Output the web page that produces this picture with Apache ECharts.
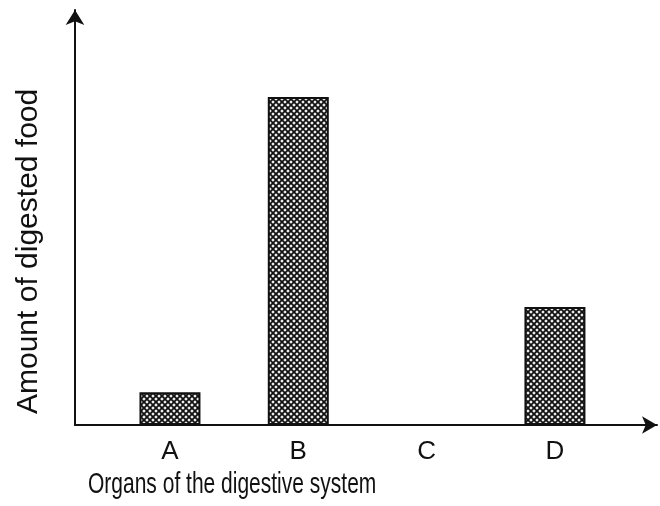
<!DOCTYPE html>
<html>
<head>
<meta charset="utf-8">
<script src="https://cdn.jsdelivr.net/npm/echarts@6/dist/echarts.min.js"></script>
<style>
html,body{margin:0;padding:0;background:#fff;}
#chart{width:660px;height:506px;}
</style>
</head>
<body>
<div id="chart"></div>
<script>
const categories = ['A', 'B', 'C', 'D'];
const values = [1.0, 10.0, 0, 3.6];
const xTitle = 'Organs of the digestive system';
const yTitle = 'Amount of digested food';

function hatch() {
  const s = 6;
  const c = document.createElement('canvas');
  c.width = s; c.height = s;
  const g = c.getContext('2d');
  g.fillStyle = '#f2f2f2';
  g.fillRect(0, 0, s, s);
  g.strokeStyle = '#111';
  g.lineWidth = 1.8;
  g.beginPath();
  g.moveTo(-1, -1); g.lineTo(s + 1, s + 1);
  g.moveTo(s + 1, -1); g.lineTo(-1, s + 1);
  g.stroke();
  return c;
}

const chart = echarts.init(document.getElementById('chart'), null, {renderer: 'canvas'});
const fontFamily = '"Liberation Sans", Arial, sans-serif';
chart.setOption({
  animation: false,
  backgroundColor: '#fff',
  grid: [
    {left: 75, right: 3, top: 10, bottom: 81},
    {left: 105.8, width: 513.3, top: 15, bottom: 81}
  ],
  xAxis: [
    {gridIndex: 0, type: 'value', min: 0, max: 1,
     axisLine: {show: true, lineStyle: {color: '#111', width: 2}, symbol: ['none', 'arrow'], symbolSize: [13, 15]},
     axisTick: {show: false}, axisLabel: {show: false}, splitLine: {show: false}},
    {gridIndex: 1, type: 'category', data: categories,
     axisLine: {show: false}, axisTick: {show: false},
     axisLabel: {color: '#111', fontSize: 26, fontFamily: fontFamily, margin: 14}}
  ],
  yAxis: [
    {gridIndex: 0, type: 'value', min: 0, max: 1,
     axisLine: {show: true, lineStyle: {color: '#111', width: 2}, symbol: ['none', 'arrow'], symbolSize: [14, 15]},
     axisTick: {show: false}, axisLabel: {show: false}, splitLine: {show: false}},
    {gridIndex: 1, type: 'value', min: 0, max: 12.5,
     axisLine: {show: false}, axisTick: {show: false}, axisLabel: {show: false}, splitLine: {show: false}}
  ],
  series: [{
    type: 'bar',
    xAxisIndex: 1, yAxisIndex: 1,
    data: values,
    barWidth: 61,
    itemStyle: {
      color: {image: hatch(), repeat: 'repeat'},
      borderColor: '#111',
      borderWidth: 2
    }
  }],
  graphic: [
    {type: 'text', left: 88, top: 470, scaleX: 0.7, style: {text: xTitle, fill: '#111', font: '30px ' + fontFamily}},
    {type: 'text', x: 14, y: 414, rotation: Math.PI / 2, style: {text: yTitle, fill: '#111', font: '30px ' + fontFamily}}
  ]
});
</script>
</body>
</html>
